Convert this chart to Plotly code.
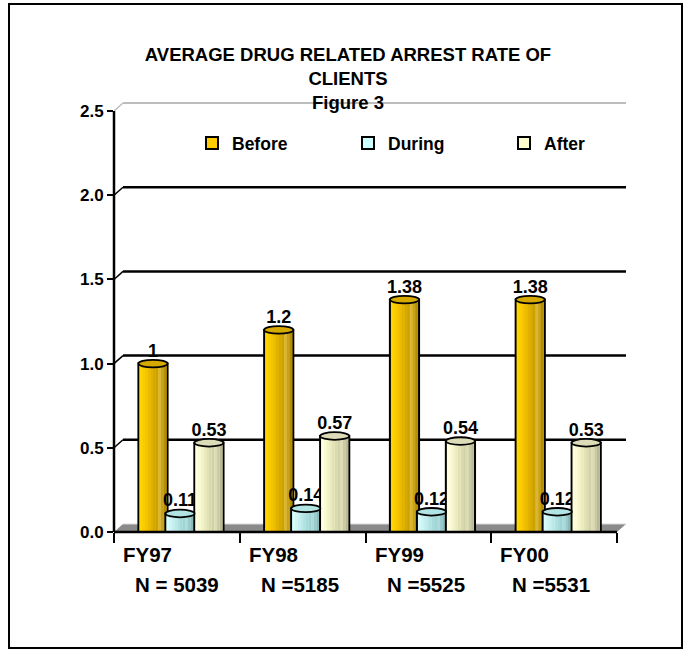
import plotly.graph_objects as go

# ---- data -------------------------------------------------------------
categories = ["FY97", "FY98", "FY99", "FY00"]
sample_sizes = ["N = 5039", "N =5185", "N =5525", "N =5531"]
before = [1.0, 1.2, 1.38, 1.38]
during = [0.11, 0.14, 0.12, 0.12]
after = [0.53, 0.57, 0.54, 0.53]
y_ticks = [0.0, 0.5, 1.0, 1.5, 2.0, 2.5]

# ---- geometry ---------------------------------------------------------
FONT = "Liberation Sans, Arial, Helvetica, sans-serif"
FIG_W, FIG_H = 691, 650
LEFT_PX, RIGHT_PX, TOP_PX, BOTTOM_PX = 114, 629, 100, 532   # plot-area edges
CAT_PX = 125.75          # pixels per category
UNIT_PX = 168.4          # pixels per y unit
DEPTH_X = 9 / CAT_PX     # back-wall offset (3-D depth) in x units
DEPTH_Y = 8 / UNIT_PX    # back-wall offset in y units
Y_MAX = 2.5
X_MIN, X_END = -0.5, len(categories) - 0.5

plot_w = RIGHT_PX - LEFT_PX
plot_h = BOTTOM_PX - TOP_PX
x_range = [X_MIN, X_MIN + plot_w / CAT_PX]
y_range = [0, plot_h / UNIT_PX]


def paper_x(px):
    return (px - LEFT_PX) / plot_w


def paper_y(py):
    return (BOTTOM_PX - py) / plot_h


BAR_W = 0.232
EDGE = 1.2 / CAT_PX
CAP_H = 3.8 / UNIT_PX

series = [
    dict(name="Before", values=before, color="#FFCC00", cap="#D6A900", center=-0.19,
         shades=["#FFD400", "#FBCD00", "#F4C400", "#EBBB00", "#E0B100", "#D5A800",
                 "#CBA200", "#D8B63E", "#C7A21C", "#B38E00"]),
    dict(name="During", values=during, color="#CCFFFF", cap="#B2E4E4", center=0.025,
         shades=["#D8FAFA", "#CFF4F4", "#C5EEEE", "#BCE8E8", "#B2E1E1", "#A9DADA",
                 "#A0D3D3", "#ACDADA", "#9BCACA", "#8ABABA"]),
    dict(name="After", values=after, color="#FFFFCC", cap="#DCDCB8", center=0.255,
         shades=["#FFFFE0", "#FAFAD5", "#F3F3CA", "#EBEBC0", "#E2E2B7", "#DADAB0",
                 "#D2D2A9", "#DCDCB6", "#CACAA6", "#B9B997"]),
]

xs = list(range(len(categories)))
fig = go.Figure()
shapes = []

# back wall gridlines and the small diagonal joins to the axis
for t in y_ticks[1:]:
    col = "#BDBDBD" if t == Y_MAX else "black"
    wid = 2 if t == Y_MAX else 2.5
    shapes.append(dict(type="line", xref="x", yref="y", layer="below",
                       x0=X_MIN + DEPTH_X, x1=X_END + DEPTH_X, y0=t + DEPTH_Y, y1=t + DEPTH_Y,
                       line=dict(color=col, width=wid)))
    shapes.append(dict(type="line", xref="x", yref="y", layer="below",
                       x0=X_MIN, x1=X_MIN + DEPTH_X, y0=t, y1=t + DEPTH_Y,
                       line=dict(color=col, width=1.5)))

# floor
shapes.append(dict(type="path", xref="x", yref="y", layer="below",
                   path=f"M{X_MIN},0 L{X_END},0 L{X_END + DEPTH_X},{DEPTH_Y} "
                        f"L{X_MIN + DEPTH_X},{DEPTH_Y} Z",
                   fillcolor="#8A8A8A", line=dict(width=0)))
shapes.append(dict(type="line", xref="x", yref="y", layer="below",
                   x0=X_MIN + DEPTH_X, x1=X_END + DEPTH_X, y0=DEPTH_Y, y1=DEPTH_Y,
                   line=dict(color="#D8D8D8", width=1)))

# cylinders: outlined body, shading strips, elliptical cap
for s in series:
    off = s["center"] - BAR_W / 2
    fig.add_trace(go.Bar(
        x=xs, y=s["values"], name=s["name"], width=BAR_W, offset=off,
        marker=dict(color=s["color"], line=dict(color="black", width=2)),
        text=[f"{v:g}" for v in s["values"]], textposition="outside",
        constraintext="none", cliponaxis=False,
        textfont=dict(family=FONT, size=18, color="black", weight="bold"),
        hoverinfo="name+y",
    ))
    n = len(s["shades"])
    sw = (BAR_W - 2 * EDGE) / n
    for i, c in enumerate(s["shades"]):
        fig.add_trace(go.Bar(
            x=xs, y=s["values"], width=sw * 1.02, offset=off + EDGE + i * sw,
            marker=dict(color=c, line=dict(width=0)),
            showlegend=False, hoverinfo="skip",
        ))
    for xi, v in zip(xs, s["values"]):
        shapes.append(dict(type="circle", xref="x", yref="y", layer="above",
                           x0=xi + off, x1=xi + off + BAR_W, y0=v - CAP_H, y1=v + CAP_H,
                           fillcolor=s["cap"], line=dict(color="black", width=1.8)))

# axis lines
shapes.append(dict(type="line", xref="x domain", yref="y", x0=0, x1=0, y0=0, y1=Y_MAX,
                   line=dict(color="black", width=2.5)))
shapes.append(dict(type="line", xref="x", yref="y domain", x0=X_MIN, x1=X_END, y0=0, y1=0,
                   line=dict(color="black", width=2.5)))

# outer frame
shapes.append(dict(type="rect", xref="paper", yref="paper",
                   x0=paper_x(9), x1=paper_x(682), y0=paper_y(648), y1=paper_y(4),
                   line=dict(color="black", width=2), fillcolor="rgba(0,0,0,0)"))

annotations = []
for xi, cat, n in zip(xs, categories, sample_sizes):
    annotations.append(dict(text=cat, xref="x", yref="paper", x=xi - 0.5 + 7 / CAT_PX,
                            y=paper_y(554), xanchor="left", yanchor="middle", showarrow=False,
                            font=dict(family=FONT, size=20.5, color="black", weight="bold")))
    annotations.append(dict(text=n, xref="x", yref="paper", x=xi - 0.5 + 19 / CAT_PX,
                            y=paper_y(584), xanchor="left", yanchor="middle", showarrow=False,
                            font=dict(family=FONT, size=20.5, color="black", weight="bold")))

fig.update_layout(
    width=FIG_W, height=FIG_H,
    margin=dict(l=LEFT_PX, r=FIG_W - RIGHT_PX, t=TOP_PX, b=FIG_H - BOTTOM_PX, pad=0),
    paper_bgcolor="white", plot_bgcolor="white",
    barmode="overlay",
    title=dict(text="AVERAGE DRUG RELATED ARREST RATE OF<br>CLIENTS<br>Figure 3",
               x=348 / FIG_W, xanchor="center", y=1 - 61 / FIG_H, yanchor="top",
               font=dict(family=FONT, size=18.5, color="black", weight="bold")),
    showlegend=True,
    legend=dict(orientation="h", x=paper_x(192), xanchor="left", y=paper_y(143),
                yanchor="middle", entrywidth=111, entrywidthmode="pixels",
                bgcolor="rgba(0,0,0,0)", borderwidth=0,
                font=dict(family=FONT, size=17.5, color="black", weight="bold")),
    xaxis=dict(range=x_range, tickvals=[i - 0.5 for i in range(len(categories) + 1)],
               showticklabels=False, ticks="outside", ticklen=10, tickwidth=2,
               tickcolor="black", showgrid=False, zeroline=False, showline=False,
               fixedrange=True),
    yaxis=dict(range=y_range, tickvals=y_ticks, tickformat=".1f", ticks="outside",
               ticklen=6, tickwidth=2, tickcolor="black", showgrid=False, zeroline=False,
               showline=False, fixedrange=True,
               tickfont=dict(family=FONT, size=17, color="black", weight="bold")),
    shapes=shapes,
    annotations=annotations,
)

fig.write_html("out.html")
